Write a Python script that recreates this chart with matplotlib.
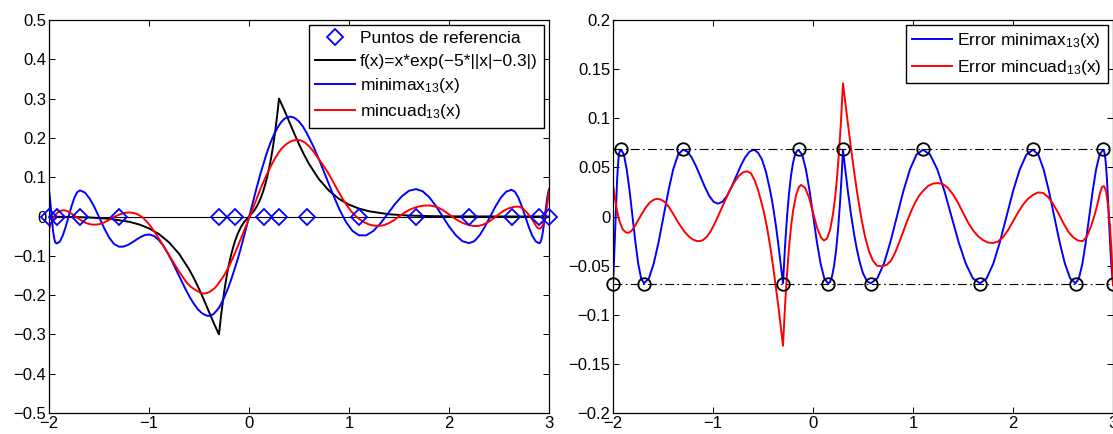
import matplotlib
matplotlib.use("Agg")
import matplotlib.pyplot as plt

plt.rcParams['font.family'] = ['Liberation Sans', 'DejaVu Sans']
plt.rcParams['mathtext.default'] = 'regular'

# reference points (alternance nodes) and the equioscillation level
ref_x = [-2.0, -1.92, -1.69, -1.30, -0.30, -0.145, 0.15, 0.30, 0.578, 1.10, 1.67, 2.20, 2.625, 2.90, 3.0]
ref_err = [-0.0683, 0.0683, -0.0683, 0.0683, -0.0683, 0.0683, -0.0683, 0.0683,
           -0.0683, 0.0683, -0.0683, 0.0683, -0.0683, 0.0683, -0.0683]
err_level = 0.0683

# f(x), black curve
f_x = [-2.0, -1.8, -1.6, -1.4, -1.2, -1.1, -1.0, -0.9, -0.8, -0.7, -0.6, -0.55, -0.5, -0.45,
       -0.4, -0.35, -0.3, -0.28, -0.26, -0.24, -0.22, -0.2, -0.18, -0.16, -0.14, -0.12, -0.1,
       -0.08, -0.05, 0.0, 0.05, 0.08, 0.1, 0.12, 0.14, 0.16, 0.18, 0.2, 0.22, 0.24, 0.26, 0.28,
       0.3, 0.35, 0.4, 0.45, 0.5, 0.55, 0.6, 0.7, 0.8, 0.9, 1.0, 1.1, 1.2, 1.4, 1.6, 1.8, 2.0,
       2.5, 3.0]
f_y = [-0.0004, -0.001, -0.0024, -0.0057, -0.0133, -0.0201, -0.0302, -0.0448, -0.0657, -0.0947,
       -0.1339, -0.1576, -0.1839, -0.2126, -0.2426, -0.2726, -0.300, -0.2534, -0.2129, -0.1778,
       -0.1475, -0.1213, -0.0988, -0.0795, -0.0629, -0.0488, -0.0368, -0.0266, -0.0143, 0.0,
       0.0143, 0.0266, 0.0368, 0.0488, 0.0629, 0.0795, 0.0988, 0.1213, 0.1475, 0.1778, 0.2129,
       0.2534, 0.300, 0.2726, 0.2426, 0.2126, 0.1839, 0.1576, 0.1339, 0.0947, 0.0657, 0.0448,
       0.0302, 0.0201, 0.0133, 0.0057, 0.0024, 0.001, 0.0004, 0.0001, 0.0]

# minimax (blue): x positions, error f - p (right) and polynomial (left)
mm_x = [-2.0, -1.99, -1.98, -1.97, -1.96, -1.95, -1.94, -1.93,
        -1.92, -1.891, -1.863, -1.834, -1.805, -1.776, -1.748, -1.719,
        -1.69, -1.641, -1.593, -1.544, -1.495, -1.446, -1.398, -1.349,
        -1.30, -1.256, -1.213, -1.169, -1.125, -1.081, -1.038, -0.994,
        -0.95, -0.905, -0.86, -0.815, -0.77, -0.725, -0.68, -0.635,
        -0.59, -0.55, -0.51, -0.47, -0.43, -0.41, -0.39, -0.37, -0.35, -0.33, -0.32,
        -0.30, -0.28, -0.26, -0.24, -0.22, -0.20, -0.18, -0.16,
        -0.145, -0.108, -0.071, -0.034, 0.0025, 0.039, 0.076, 0.113,
        0.15, 0.17, 0.19, 0.21, 0.23, 0.25, 0.27, 0.285,
        0.30, 0.32, 0.35, 0.38, 0.41, 0.44, 0.47, 0.50, 0.54,
        0.578, 0.643, 0.709, 0.774, 0.839, 0.904, 0.970, 1.035,
        1.10, 1.171, 1.243, 1.314, 1.385, 1.456, 1.528, 1.599,
        1.67, 1.736, 1.803, 1.869, 1.935, 2.001, 2.068, 2.134,
        2.20, 2.253, 2.306, 2.359, 2.4125, 2.466, 2.519, 2.572,
        2.625, 2.659, 2.694, 2.728, 2.7625, 2.797, 2.831, 2.866,
        2.90, 2.91, 2.92, 2.93, 2.94, 2.95, 2.96, 2.97, 2.98, 2.99, 3.0]
mm_err = [-0.068, -0.045, -0.018, 0.010, 0.035, 0.053, 0.064, 0.067,
          0.068, 0.063, 0.048, 0.026, 0.0, -0.026, -0.048, -0.063,
          -0.068, -0.063, -0.048, -0.026, 0.0, 0.026, 0.048, 0.063,
          0.068, 0.066, 0.060, 0.051, 0.0405, 0.030, 0.021, 0.015,
          0.013, 0.015, 0.021, 0.030, 0.0405, 0.051, 0.060, 0.066,
          0.068, 0.065, 0.058, 0.0453, 0.027, 0.0165, 0.0038, -0.0102, -0.0256, -0.0425, -0.051,
          -0.068, -0.0308, -0.0005, 0.0234, 0.0415, 0.0545, 0.0628, 0.0669,
          0.0677, 0.063, 0.048, 0.026, 0.0, -0.026, -0.048, -0.063,
          -0.068, -0.0667, -0.061, -0.0506, -0.0351, -0.0139, 0.0137, 0.0387,
          0.068, 0.0501, 0.0249, 0.0022, -0.0175, -0.0341, -0.0475, -0.0578, -0.066,
          -0.068, -0.063, -0.048, -0.026, 0.0, 0.026, 0.048, 0.063,
          0.068, 0.063, 0.048, 0.026, 0.0, -0.026, -0.048, -0.063,
          -0.068, -0.063, -0.048, -0.026, 0.0, 0.026, 0.048, 0.063,
          0.068, 0.063, 0.048, 0.026, 0.0, -0.026, -0.048, -0.063,
          -0.068, -0.063, -0.048, -0.026, 0.0, 0.026, 0.048, 0.063,
          0.068, 0.067, 0.062, 0.052, 0.037, 0.018, -0.005, -0.025, -0.044, -0.058, -0.068]
mm_y = [0.0676, 0.0446, 0.0176, -0.0104, -0.0354, -0.0534, -0.0644, -0.0675,
        -0.0686, -0.0637, -0.0488, -0.0269, -0.001, 0.0249, 0.0467, 0.0616,
        0.0664, 0.061, 0.0455, 0.0229, -0.0038, -0.0307, -0.0538, -0.0701,
        -0.0768, -0.0766, -0.0726, -0.0662, -0.0587, -0.0518, -0.0469, -0.0459,
        -0.0498, -0.0590, -0.0733, -0.0921, -0.1139, -0.1376, -0.1617, -0.1849,
        -0.2064, -0.2226, -0.2365, -0.2462, -0.2515, -0.253, -0.2525, -0.2505, -0.247, -0.2415, -0.2385,
        -0.232, -0.2226, -0.2124, -0.2012, -0.189, -0.1758, -0.1616, -0.1464,
        -0.1345, -0.1044, -0.0706, -0.035, 0.0006, 0.0366, 0.0728, 0.1074,
        0.139, 0.1554, 0.1706, 0.1845, 0.1972, 0.2086, 0.2187, 0.2257,
        0.232, 0.2394, 0.2477, 0.2525, 0.254, 0.2526, 0.2484, 0.2417, 0.2287,
        0.212, 0.1787, 0.1397, 0.0984, 0.0567, 0.0181, -0.014, -0.0368,
        -0.0479, -0.048, -0.0369, -0.0177, 0.0061, 0.0305, 0.0513, 0.0654,
        0.0698, 0.0643, 0.049, 0.0267, 0.0005, -0.0256, -0.0477, -0.0628,
        -0.0678, -0.0629, -0.0479, -0.0259, 0.0001, 0.0261, 0.0481, 0.0631,
        0.068, 0.063, 0.048, 0.026, 0.0, -0.026, -0.048, -0.063,
        -0.068, -0.067, -0.062, -0.052, -0.037, -0.018, 0.005, 0.025, 0.044, 0.058, 0.068]

# least squares (red): x positions, error f - p (right) and polynomial (left)
ls_x = [-2.0, -1.98, -1.96, -1.94, -1.92, -1.90, -1.87, -1.84, -1.81, -1.78,
        -1.75, -1.71, -1.67, -1.63, -1.59, -1.56, -1.52, -1.48, -1.44, -1.40,
        -1.36, -1.32, -1.28, -1.24, -1.20, -1.16, -1.13, -1.10, -1.06, -1.02,
        -0.98, -0.94, -0.90, -0.86, -0.82, -0.78, -0.74, -0.70, -0.66, -0.62,
        -0.58, -0.55, -0.52, -0.49, -0.46, -0.43, -0.40, -0.37, -0.34, -0.32,
        -0.30, -0.28, -0.26, -0.24, -0.22, -0.20, -0.17, -0.14, -0.12, -0.08,
        -0.04, 0.0, 0.04, 0.08, 0.11, 0.14, 0.17, 0.20, 0.22, 0.24,
        0.26, 0.28, 0.30, 0.32, 0.35, 0.38, 0.41, 0.44, 0.485, 0.52,
        0.56, 0.60, 0.64, 0.69, 0.74, 0.78, 0.82, 0.86, 0.90, 0.94,
        0.98, 1.02, 1.06, 1.10, 1.15, 1.20, 1.25, 1.30, 1.35, 1.40,
        1.45, 1.50, 1.55, 1.60, 1.65, 1.70, 1.75, 1.80, 1.85, 1.90,
        1.95, 2.00, 2.05, 2.10, 2.15, 2.20, 2.25, 2.30, 2.35, 2.40,
        2.45, 2.50, 2.55, 2.60, 2.65, 2.70, 2.74, 2.78, 2.82, 2.85,
        2.87, 2.89, 2.91, 2.93, 2.95, 2.97, 2.985, 3.0]
ls_err = [0.032, 0.018, 0.006, -0.003, -0.009, -0.0135, -0.0163, -0.0165, -0.014, -0.0095,
          -0.004, 0.003, 0.0095, 0.0145, 0.0172, 0.018, 0.0172, 0.0145, 0.0095, 0.003,
          -0.004, -0.0105, -0.016, -0.0205, -0.0235, -0.025, -0.025, -0.024, -0.0205, -0.0145,
          -0.0065, 0.0025, 0.0115, 0.0205, 0.029, 0.036, 0.0415, 0.045, 0.046, 0.044,
          0.036, 0.027, 0.016, 0.004, -0.011, -0.029, -0.050, -0.073, -0.097, -0.114,
          -0.1315, -0.0916, -0.0587, -0.032, -0.0109, 0.0053, 0.0217, 0.0301, 0.0321, 0.0293,
          0.0194, 0.0043, -0.0112, -0.0215, -0.0245, -0.0224, -0.014, 0.0024, 0.0184, 0.0391,
          0.0652, 0.0973, 0.1356, 0.1184, 0.0936, 0.0694, 0.0464, 0.0253, -0.0027, -0.0204,
          -0.0354, -0.0451, -0.0501, -0.0508, -0.049, -0.045, -0.037, -0.027, -0.016, -0.005,
          0.005, 0.014, 0.021, 0.026, 0.031, 0.0335, 0.034, 0.033, 0.029, 0.0225,
          0.014, 0.004, -0.006, -0.014, -0.020, -0.024, -0.0265, -0.027, -0.0255, -0.021,
          -0.014, -0.005, 0.004, 0.012, 0.018, 0.022, 0.0245, 0.024, 0.020, 0.013,
          0.004, -0.006, -0.015, -0.021, -0.0245, -0.025, -0.020, -0.010, 0.003, 0.015,
          0.024, 0.030, 0.031, 0.026, 0.012, -0.010, -0.035, -0.070]
ls_y = [-0.0324, -0.0184, -0.0065, 0.0025, 0.0084, 0.0128, 0.0155, 0.0156, 0.013, 0.0083,
        0.0027, -0.0045, -0.0113, -0.0166, -0.0197, -0.0208, -0.0205, -0.0184, -0.0141, -0.0087,
        -0.0028, 0.0024, 0.0065, 0.0092, 0.0102, 0.0093, 0.0072, 0.0039, -0.0032, -0.0134,
        -0.0262, -0.0408, -0.0563, -0.0728, -0.0899, -0.1068, -0.1235, -0.1397, -0.1548, -0.1692,
        -0.179, -0.1846, -0.1891, -0.1935, -0.1957, -0.1955, -0.1926, -0.1877, -0.1814, -0.1755,
        -0.1685, -0.1618, -0.1542, -0.1458, -0.1366, -0.1266, -0.1104, -0.093, -0.0809, -0.0559,
        -0.0303, -0.0043, 0.0221, 0.0481, 0.067, 0.0853, 0.1027, 0.1189, 0.1291, 0.1387,
        0.1477, 0.1561, 0.1644, 0.1711, 0.179, 0.1853, 0.1901, 0.1932, 0.195, 0.1935,
        0.188, 0.179, 0.167, 0.149, 0.131, 0.1158, 0.0979, 0.0793, 0.0608, 0.0433,
        0.0277, 0.0139, 0.0027, -0.0059, -0.0146, -0.0202, -0.0232, -0.0242, -0.0219, -0.0168,
        -0.0094, -0.0003, 0.009, 0.0164, 0.0219, 0.0256, 0.0278, 0.028, 0.0263, 0.0217,
        0.0145, 0.0054, -0.0037, -0.0117, -0.0177, -0.0218, -0.0243, -0.0238, -0.0198, -0.0129,
        -0.0039, 0.0061, 0.0151, 0.0211, 0.0246, 0.0251, 0.0201, 0.0101, -0.0029, -0.0149,
        -0.0239, -0.0299, -0.0309, -0.0259, -0.0119, 0.0101, 0.0351, 0.0701]

xticks = [-2, -1, 0, 1, 2, 3]
xticklabels = ['\u22122', '\u22121', '0', '1', '2', '3']
left_yticks = [-0.5, -0.4, -0.3, -0.2, -0.1, 0, 0.1, 0.2, 0.3, 0.4, 0.5]
left_yticklabels = ['\u22120.5', '\u22120.4', '\u22120.3', '\u22120.2', '\u22120.1', '0',
                    '0.1', '0.2', '0.3', '0.4', '0.5']
right_yticks = [-0.2, -0.15, -0.1, -0.05, 0, 0.05, 0.1, 0.15, 0.2]
right_yticklabels = ['\u22120.2', '\u22120.15', '\u22120.1', '\u22120.05', '0',
                     '0.05', '0.1', '0.15', '0.2']

FS = 12
LEG_FS = 12.5
LW = 1.4


def style_axes(ax, yticks, yticklabels, ylim):
    ax.set_xlim(-2, 3)
    ax.set_ylim(*ylim)
    ax.set_xticks(xticks)
    ax.set_xticklabels(xticklabels)
    ax.set_yticks(yticks)
    ax.set_yticklabels(yticklabels)
    ax.tick_params(direction='in', top=True, right=True, length=4.5, width=0.7,
                   labelsize=FS, pad=2)
    for sp in ax.spines.values():
        sp.set_linewidth(0.9)


def add_legend(ax):
    leg = ax.legend(loc='upper right', fancybox=False, edgecolor='black', framealpha=1,
                    borderaxespad=0.3, handlelength=2.3, handletextpad=0.3,
                    labelspacing=0.42, borderpad=0.35, fontsize=LEG_FS)
    leg.get_frame().set_linewidth(1.0)
    return leg


fig = plt.figure(figsize=(11.13, 4.34), dpi=100)
ax1 = fig.add_axes([49 / 1113, 1 - 413 / 434, 500 / 1113, 393 / 434])
ax2 = fig.add_axes([613 / 1113, 1 - 413 / 434, 500 / 1113, 393 / 434])

# left panel: function and both approximations
ax1.plot([-2, 3], [0, 0], color='black', lw=0.8)
ax1.plot(ref_x, [0] * len(ref_x), 'D', mfc='none', mec='blue', ms=8, mew=1.3,
         label='Puntos de referencia', clip_on=False, zorder=5)
ax1.plot(f_x, f_y, color='black', lw=LW, label='f(x)=x*exp(\u22125*||x|\u22120.3|)')
ax1.plot(mm_x, mm_y, color='blue', lw=LW, label='minimax$_{13}$(x)')
ax1.plot(ls_x, ls_y, color='red', lw=LW, label='mincuad$_{13}$(x)')
style_axes(ax1, left_yticks, left_yticklabels, (-0.5, 0.5))
add_legend(ax1)

# right panel: errors
ax2.plot(mm_x, mm_err, color='blue', lw=LW, label='Error minimax$_{13}$(x)')
ax2.plot(ls_x, ls_err, color='red', lw=LW, label='Error mincuad$_{13}$(x)')
ax2.plot([-2, 3], [err_level, err_level], color='black', lw=0.8, ls=(0, (8, 3, 1.5, 3)))
ax2.plot([-2, 3], [-err_level, -err_level], color='black', lw=0.8, ls=(0, (8, 3, 1.5, 3)))
ax2.plot(ref_x, ref_err, 'o', mfc='none', mec='black', ms=9, mew=1.3, clip_on=False, zorder=5)
style_axes(ax2, right_yticks, right_yticklabels, (-0.2, 0.2))
add_legend(ax2)

fig.savefig('out.png', dpi=100)
